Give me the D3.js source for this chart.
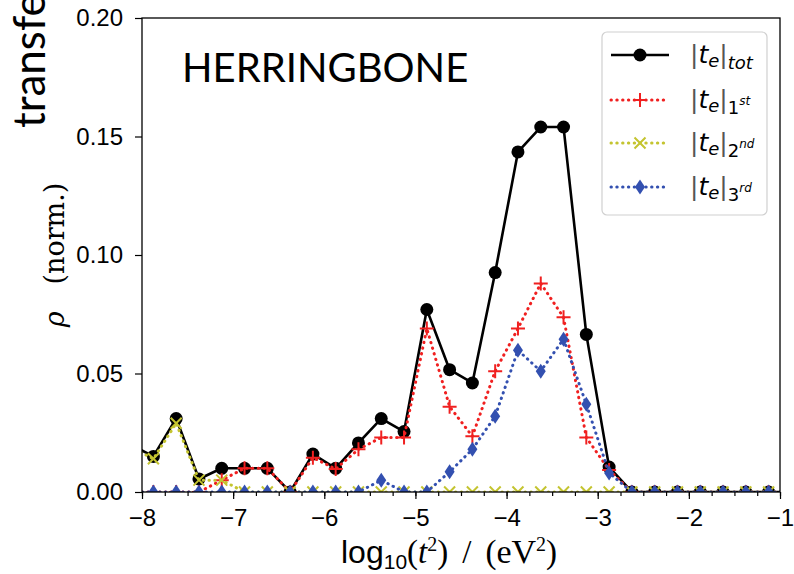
<!DOCTYPE html>
<html><head><meta charset="utf-8">
<script src="https://cdn.jsdelivr.net/npm/d3@7"></script>
<style>body{margin:0;background:#fff} svg{display:block}</style>
</head><body>
<svg id="c" width="794" height="574"></svg>
<script>
// ---- data ----
const binCenters = [-8.125,-7.875,-7.625,-7.375,-7.125,-6.875,-6.625,-6.375,-6.125,-5.875,
  -5.625,-5.375,-5.125,-4.875,-4.625,-4.375,-4.125,-3.875,-3.625,-3.375,
  -3.125,-2.875,-2.625,-2.375,-2.125,-1.875,-1.625,-1.375,-1.125,-0.875];
const totValues = [0.020,0.015,0.031,0.0055,0.010,0.010,0.010,0.0,0.016,0.010,
  0.0207,0.031,0.0255,0.077,0.0516,0.046,0.0926,0.1435,0.154,0.154,
  0.0665,0.0105,0,0,0,0,0,0,0,0];
const firstValues = [0,0,0,0,0.005,0.010,0.010,0,0.0145,0.0097,
  0.018,0.023,0.023,0.069,0.036,0.0235,0.051,0.069,0.088,0.0737,
  0.023,0.0093,0,0,0,0,0,0,0,0];
const secondValues = [0.019,0.014,0.029,0.005,0.005,0,0,0,0,0,
  0,0,0,0,0,0,0,0,0,0,
  0,0,0,0,0,0,0,0,0,0];
const thirdValues = [0,0,0,0,0,0,0,0,0,0,
  0,0.005,0,0,0.0085,0.018,0.032,0.0598,0.051,0.0645,
  0.037,0.008,0,0,0,0,0,0,0,0];
const xTickValues = [-8,-7,-6,-5,-4,-3,-2,-1];
const xTickLabels = ["\u22128","\u22127","\u22126","\u22125","\u22124","\u22123","\u22122","\u22121"];
const yTickValues = [0,0.05,0.10,0.15,0.20];
const yTickLabels = ["0.00","0.05","0.10","0.15","0.20"];
const seriesKeys = ["tot","1st","2nd","3rd"];

// ---- setup ----
const svg = d3.select("#c");
const L=142, R=780, T=18, B=492;
const x = d3.scaleLinear().domain([-8,-1]).range([L,R]);
const y = d3.scaleLinear().domain([0,0.2]).range([B,T]);

svg.append("rect").attr("width",794).attr("height",574).attr("fill","#fff");

svg.append("defs").append("clipPath").attr("id","plotclip")
  .append("rect").attr("x",L).attr("y",T).attr("width",R-L).attr("height",B-T);

// slide text cut off at the left
svg.append("text").attr("transform","translate(45,128) rotate(-90)")
  .attr("font-family","Lato").attr("font-size",44).attr("fill","#000")
  .text("transfe");

// axes
const xAxis = d3.axisBottom(x).tickValues(xTickValues)
  .tickFormat((d,i)=>xTickLabels[i]).tickSize(7).tickPadding(10);
const xMinor = d3.axisBottom(x).tickValues(d3.range(-8,-0.999,0.25))
  .tickFormat("").tickSize(4);
const yAxis = d3.axisLeft(y).tickValues(yTickValues)
  .tickFormat((d,i)=>yTickLabels[i]).tickSize(7).tickPadding(12);

const gxm = svg.append("g").attr("transform",`translate(0,${B})`).call(xMinor);
const gx = svg.append("g").attr("transform",`translate(0,${B})`).call(xAxis);
const gy = svg.append("g").attr("transform",`translate(${L},0)`).call(yAxis);
[gx,gy,gxm].forEach(g=>{
  g.select(".domain").remove();
  g.selectAll("line").attr("stroke","#000").attr("stroke-width",1.2);
  g.selectAll("text").attr("font-family","Liberation Sans").attr("font-size",24).attr("fill","#000");
});

// series
const seriesData = {
  "tot": totValues, "1st": firstValues, "2nd": secondValues, "3rd": thirdValues
};
const DOT = "0.4,5.4";
const styles = {
  "tot": {color:"#000", dash:null, width:2.6, marker:"circle"},
  "1st": {color:"#f02020", dash:DOT, width:3, marker:"plus"},
  "2nd": {color:"#c4c430", dash:DOT, width:3, marker:"x"},
  "3rd": {color:"#3350b0", dash:DOT, width:3, marker:"diamond"}
};
const markerPath = {
  plus: "M-7,0H7M0,-7V7",
  x: "M-5.5,-5.5L5.5,5.5M-5.5,5.5L5.5,-5.5",
  diamond: "M0,-7.5L5,0L0,7.5L-5,0Z"
};
function drawMarker(g, type, color){
  if(type==="circle") g.append("circle").attr("r",6.5).attr("fill",color);
  else if(type==="diamond") g.append("path").attr("d",markerPath.diamond).attr("fill",color);
  else g.append("path").attr("d",markerPath[type]).attr("stroke",color).attr("stroke-width",2).attr("fill","none");
}

const plot = svg.append("g").attr("clip-path","url(#plotclip)");
const line = d3.line().x((d,i)=>x(binCenters[i])).y(d=>y(d));
seriesKeys.forEach(k=>{
  const st = styles[k], vals = seriesData[k];
  const g = plot.append("g");
  const p = g.append("path").attr("d",line(vals)).attr("fill","none")
    .attr("stroke",st.color).attr("stroke-width",st.width).attr("stroke-linejoin","round");
  if(st.dash) p.attr("stroke-dasharray",st.dash).attr("stroke-linecap","round");
  vals.forEach((v,i)=>{
    const mg = g.append("g").attr("transform",`translate(${x(binCenters[i])},${y(v)})`);
    drawMarker(mg, st.marker, st.color);
  });
});

// frame
svg.append("rect").attr("x",L).attr("y",T).attr("width",R-L).attr("height",B-T)
  .attr("fill","none").attr("stroke","#000").attr("stroke-width",1.3);

// HERRINGBONE label
svg.append("text").attr("x",182).attr("y",82).attr("font-family","Lato")
  .attr("font-size",40).attr("fill","#000").text("HERRINGBONE");

// legend
const lg = svg.append("g");
lg.append("rect").attr("x",602).attr("y",32).attr("width",165).attr("height",183)
  .attr("rx",5).attr("fill","#fff").attr("fill-opacity",0.85).attr("stroke","#d0d0d0").attr("stroke-width",1.2);
const legendRows = [55,100,143,187];
const subMain = {"tot":null,"1st":"1","2nd":"2","3rd":"3"};
const subSup = {"tot":null,"1st":"st","2nd":"nd","3rd":"rd"};
seriesKeys.forEach((k,i)=>{
  const st = styles[k], yy = legendRows[i];
  const l = lg.append("line").attr("x1",611).attr("x2",669).attr("y1",yy).attr("y2",yy)
    .attr("stroke",st.color).attr("stroke-width",st.width);
  if(st.dash) l.attr("stroke-dasharray",st.dash).attr("stroke-linecap","round");
  drawMarker(lg.append("g").attr("transform",`translate(640,${yy})`), st.marker, st.color);
  const t = lg.append("text").attr("x",690).attr("y",yy+8)
    .attr("font-family","DejaVu Sans").attr("font-size",25).attr("fill","#000");
  t.append("tspan").attr("fill","#555").text("|");
  t.append("tspan").attr("font-style","italic").text("t");
  t.append("tspan").attr("font-style","italic").attr("font-size",18).attr("dy",4).text("e");
  t.append("tspan").attr("fill","#555").attr("dy",-4).text("|");
  if(k==="tot"){
    t.append("tspan").attr("font-style","italic").attr("font-size",18).attr("dy",6).text("tot");
  } else {
    t.append("tspan").attr("font-size",18).attr("dy",6).text(subMain[k]);
    t.append("tspan").attr("font-style","italic").attr("font-size",12).attr("dy",-9).text(subSup[k]);
  }
});

// axis labels
const xl = svg.append("text").attr("x",341).attr("y",563)
  .attr("font-size",32).attr("fill","#000");
xl.append("tspan").attr("font-family","Liberation Sans").text("log");
xl.append("tspan").attr("font-family","Liberation Sans").attr("font-size",21).attr("dy",6).text("10");
xl.append("tspan").attr("font-family","Liberation Serif").attr("font-size",33).attr("dy",-6).text("(");
xl.append("tspan").attr("font-family","Liberation Serif").attr("font-style","italic").attr("font-size",33).text("t");
xl.append("tspan").attr("font-family","Liberation Serif").attr("font-size",20).attr("dy",-12).text("2");
xl.append("tspan").attr("font-family","Liberation Serif").attr("font-size",33).attr("dy",12).text(")");
xl.append("tspan").attr("font-family","Liberation Serif").attr("font-size",33).attr("dx",14).text("/");
xl.append("tspan").attr("font-family","Liberation Serif").attr("font-size",33).attr("dx",14).text("(");
xl.append("tspan").attr("font-family","Liberation Serif").attr("font-size",34).text("eV");
xl.append("tspan").attr("font-family","Liberation Serif").attr("font-size",20).attr("dy",-12).text("2");
xl.append("tspan").attr("font-family","Liberation Serif").attr("font-size",33).attr("dy",12).text(")");

const yl = svg.append("text").attr("transform","translate(64,255) rotate(-90)")
  .attr("text-anchor","middle").attr("font-family","DejaVu Serif").attr("font-size",27).attr("fill","#000");
yl.append("tspan").attr("font-style","italic").text("ρ");
yl.append("tspan").text("\u2003(norm.)");
</script>
</body></html>
